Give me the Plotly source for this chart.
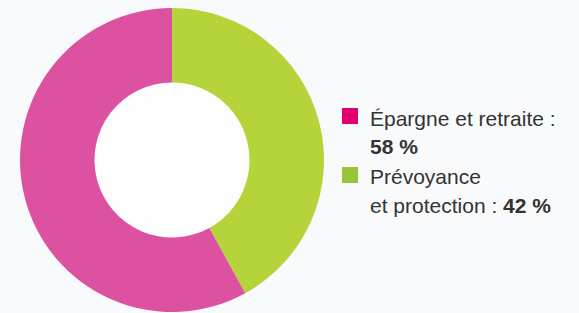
import plotly.graph_objects as go

labels = ["Prévoyance et protection", "Épargne et retraite"]
values = [42, 58]
slice_colors = ["#b5d43a", "#dc52a1"]

legend_labels = ["Épargne et retraite", "Prévoyance et protection"]
legend_colors = ["#e2006e", "#9cc43a"]
legend_lines = [
    ["Épargne et retraite :", "<b>58 %</b>"],
    ["Prévoyance", "et protection : <b>42 %</b>"],
]

W, H = 579, 313
bg = "#f9fafc"

fig = go.Figure()
fig.add_trace(go.Pie(
    labels=labels, values=values, sort=False, direction="clockwise",
    rotation=0, hole=0.51,
    marker=dict(colors=slice_colors, line=dict(width=0)),
    textinfo="none", hoverinfo="label+percent",
    domain=dict(x=[20 / W, 324 / W], y=[1 - 312 / H, 1 - 8 / H]),
    showlegend=False,
))

# whiter centre of the ring
fig.add_shape(type="circle", xref="paper", yref="paper", layer="below",
              x0=94 / W, x1=250 / W, y0=1 - 238 / H, y1=1 - 82 / H,
              fillcolor="#fdfdfe", line=dict(width=0))

sq_tops = [108, 167]
line_centers = [[119, 146], [176, 205]]
for i in range(len(legend_labels)):
    t = sq_tops[i]
    fig.add_shape(type="rect", xref="paper", yref="paper",
                  x0=342 / W, x1=358 / W, y0=1 - (t + 16) / H, y1=1 - t / H,
                  fillcolor=legend_colors[i], line=dict(width=0))
    for j, txt in enumerate(legend_lines[i]):
        fig.add_annotation(xref="paper", yref="paper", x=368 / W,
                           y=1 - line_centers[i][j] / H,
                           xanchor="left", yanchor="middle", showarrow=False,
                           text=txt, font=dict(family="Liberation Sans, Arial", size=21, color="#333333"))

fig.update_layout(width=W, height=H, margin=dict(l=0, r=0, t=0, b=0),
                  paper_bgcolor=bg, plot_bgcolor=bg)
fig.write_html("out.html", config={"displayModeBar": False},
               post_script="document.body.style.margin='0';document.body.style.background='%s';" % bg)
